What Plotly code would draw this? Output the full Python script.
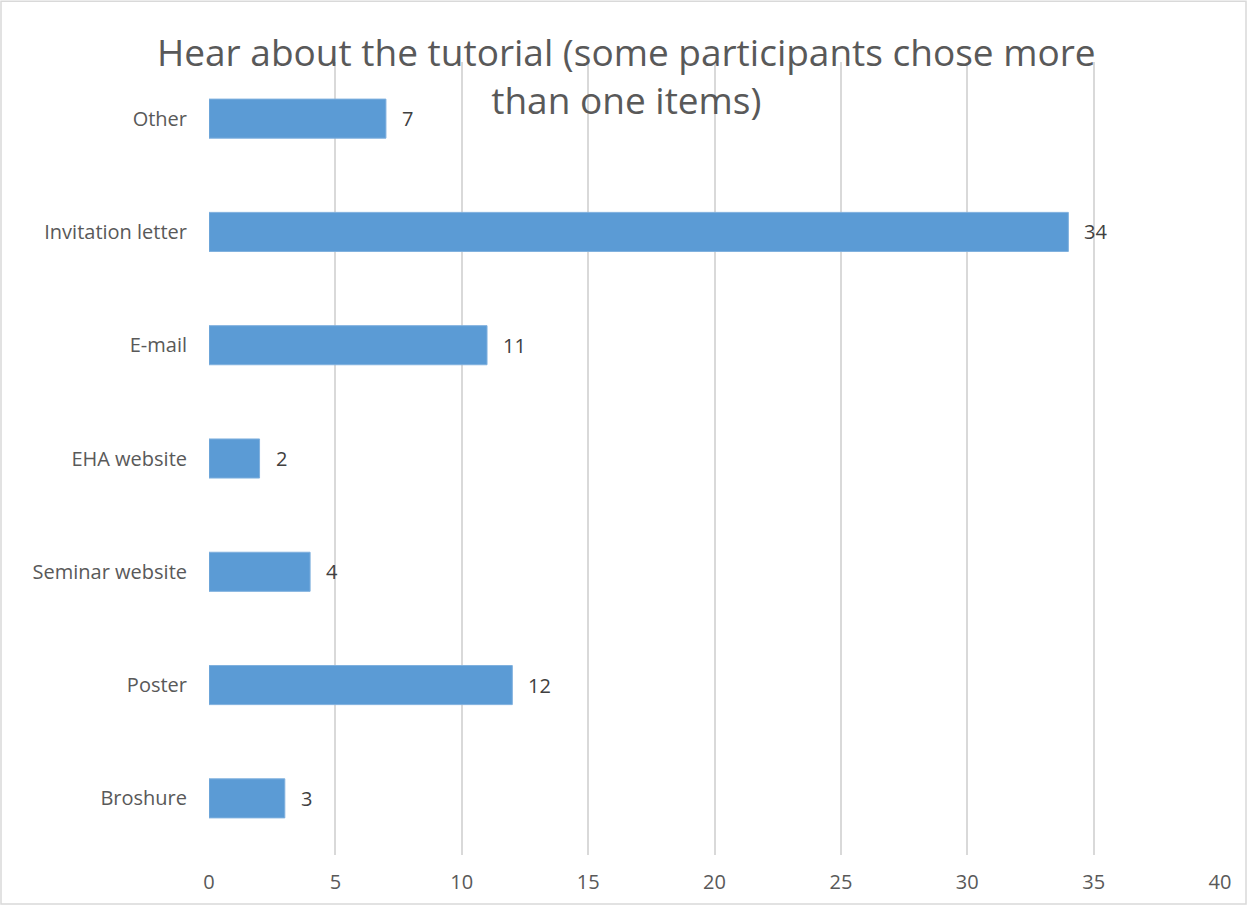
import plotly.graph_objects as go

categories = ["Broshure", "Poster", "Seminar website", "EHA website", "E-mail", "Invitation letter", "Other"]
values = [3, 12, 4, 2, 11, 34, 7]
x_ticks = [0, 5, 10, 15, 20, 25, 30, 35, 40]

FONT = "Open Sans"
fig = go.Figure()
fig.add_trace(go.Bar(
    x=values, y=categories, orientation="h",
    marker=dict(color="#5b9bd5", line=dict(color="#7fb0de", width=1)),
    width=0.345, hoverinfo="skip",
))
for c, v in zip(categories, values):
    fig.add_annotation(x=v, y=c, text=str(v), showarrow=False, xanchor="left",
                       xshift=14, font=dict(family=FONT, size=20, color="#404040"))

fig.add_annotation(
    x=(626 - 209) / (1220 - 209), y=1.0, xref="paper", yref="paper",
    text="Hear about the tutorial (some participants chose more<br>than one items)",
    showarrow=False, xanchor="center", yanchor="middle", yshift=-13,
    font=dict(family=FONT, size=37, color="#595959"),
)
fig.add_shape(type="rect", xref="paper", yref="paper",
              x0=-209/1011 + 1/1011, x1=1 + 26/1011, y0=-49/795, y1=1 + 61/795,
              line=dict(color="#d9d9d9", width=1.5), layer="below")

fig.update_layout(
    width=1247, height=907,
    margin=dict(l=209, r=27, t=62, b=50),
    paper_bgcolor="white", plot_bgcolor="white",
    showlegend=False,
    xaxis=dict(range=[0, 40], tickvals=x_ticks, showgrid=True, gridcolor="#d9d9d9",
               gridwidth=1.5, zeroline=False, showline=False, ticks="",
               ticklabelstandoff=13,
               tickfont=dict(family=FONT, size=20, color="#595959")),
    yaxis=dict(categoryorder="array", categoryarray=categories, range=[-0.5, 6.5],
               showgrid=False, zeroline=False, showline=False, ticks="",
               ticklabelstandoff=21,
               tickfont=dict(family=FONT, size=20, color="#595959")),
)
fig.write_html("out.html", config={"displayModeBar": False},
               post_script="document.body.style.margin='0';document.body.style.padding='0';")
